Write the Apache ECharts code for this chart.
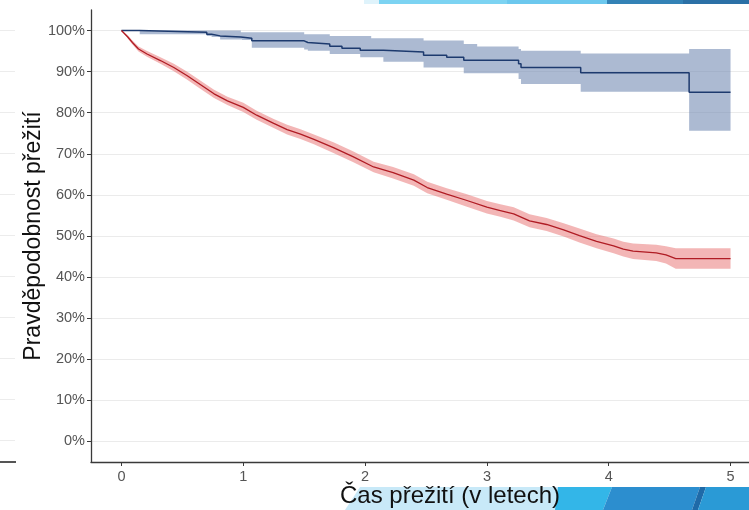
<!DOCTYPE html>
<html>
<head>
<meta charset="utf-8">
<script src="https://cdn.jsdelivr.net/npm/echarts@6/dist/echarts.min.js"></script>
<style>
    html, body {margin: 0; padding: 0; background: #fff;}
    #chart {width: 749px; height: 510px;}
</style>
</head>
<body>
<div id="chart"></div>
<script>
// osy
var xTicks = [0, 1, 2, 3, 4, 5];
var yTicks = [0, 10, 20, 30, 40, 50, 60, 70, 80, 90, 100];

// skupina 1 (modrá) - Kaplan-Meier, schodovitě
var blueTime  = [0, 0.15, 0.70, 0.74, 0.81, 0.98, 0.99, 1.07, 1.50, 1.53, 1.71, 1.81, 1.96, 2.05, 2.15, 2.48, 2.67, 2.81, 2.92, 3.26, 3.28, 3.77, 4.66, 5.0];
var blueSurv  = [100, 99.6, 99.1, 98.7, 98.4, 98.4, 98.1, 97.5, 97.1, 96.7, 96.2, 95.7, 95.2, 95.2, 94.8, 94.0, 93.5, 92.8, 92.8, 91.9, 91.0, 89.7, 85.0, 85.0];
var blueUpper = [100, 100, 100, 100, 100, 99.6, 99.6, 99.6, 99.1, 99.1, 98.7, 98.7, 98.7, 98.1, 98.1, 97.6, 97.6, 96.7, 96.1, 95.5, 95.1, 94.4, 95.5, 95.5];
var blueLower = [100, 99.1, 98.7, 98.4, 97.8, 97.8, 97.7, 95.8, 95.4, 95.1, 94.3, 94.3, 93.5, 93.5, 92.4, 91.0, 91.0, 89.6, 89.6, 88.2, 87.0, 85.1, 75.6, 75.6];

// skupina 2 (červená)
var redTime  = [0, 0.05, 0.09, 0.14, 0.21, 0.32, 0.43, 0.54, 0.65, 0.76, 0.87, 1.0, 1.11, 1.25, 1.36, 1.47, 1.58, 1.74, 1.90, 2.07, 2.23, 2.40, 2.51, 2.67, 2.83, 3.0, 3.11, 3.22, 3.35, 3.49, 3.63, 3.76, 3.90, 4.04, 4.12, 4.20, 4.39, 4.47, 4.55, 5.0];
var redSurv  = [100, 98.5, 97.1, 95.5, 94.3, 92.7, 91.0, 89.0, 86.8, 84.6, 82.9, 81.3, 79.4, 77.4, 75.9, 74.8, 73.5, 71.5, 69.3, 66.8, 65.4, 63.6, 61.8, 60.2, 58.7, 57.0, 56.2, 55.4, 53.7, 52.8, 51.5, 50.1, 48.7, 47.6, 46.8, 46.3, 45.9, 45.4, 44.5, 44.5];
var redLower = [100, 98.1, 96.6, 94.9, 93.6, 91.9, 90.1, 88.0, 85.8, 83.6, 81.9, 80.2, 78.3, 76.3, 74.7, 73.6, 72.3, 70.2, 68.0, 65.5, 64.0, 62.2, 60.4, 58.8, 57.2, 55.5, 54.7, 53.8, 52.1, 51.2, 49.9, 48.4, 47.0, 45.8, 45.0, 44.4, 43.9, 43.3, 42.0, 42.0];
var redUpper = [100, 98.9, 97.6, 96.1, 95.0, 93.5, 91.9, 90.0, 87.8, 85.6, 83.9, 82.4, 80.5, 78.5, 77.1, 76.0, 74.7, 72.8, 70.6, 68.1, 66.8, 65.0, 63.2, 61.6, 60.2, 58.5, 57.7, 57.0, 55.3, 54.4, 53.1, 51.8, 50.4, 49.4, 48.6, 48.2, 47.9, 47.5, 47.0, 47.0];

function pairs(t, v) {
    var out = [];
    for (var i = 0; i < t.length; i++) out.push([t[i], v[i]]);
    return out;
}

// pás intervalu spolehlivosti jako jeden polygon
function band(t, lo, hi, color, step) {
    return {
        type: 'custom',
        silent: true,
        z: 1,
        clip: true,
        data: [[t[0], hi[0]]],
        renderItem: function (params, api) {
            var top = [], bottom = [];
            for (var i = 0; i < t.length; i++) {
                top.push(api.coord([t[i], hi[i]]));
                bottom.push(api.coord([t[i], lo[i]]));
                if (step && i < t.length - 1) {
                    top.push(api.coord([t[i + 1], hi[i]]));
                    bottom.push(api.coord([t[i + 1], lo[i]]));
                }
            }
            return {
                type: 'polygon',
                shape: {points: top.concat(bottom.reverse())},
                style: {fill: color}
            };
        }
    };
}

var chart = echarts.init(document.getElementById('chart'));

var axisCol = '#3a3a3a';
var gridCol = '#ebebeb';
var font = 'Liberation Sans';

chart.setOption({
    animation: false,
    grid: {left: 91, right: -12, top: 10, bottom: 48, containLabel: false, outerBoundsMode: 'none'},
    xAxis: {
        type: 'value',
        min: -0.25,
        max: 5.25,
        name: 'Čas přežití (v letech)',
        nameLocation: 'middle',
        nameGap: 22,
        nameMoveOverlap: false,
        nameTextStyle: {fontSize: 24, color: '#111', fontFamily: font, padding: [0, 0, 0, 48]},
        axisLine: {onZero: false, lineStyle: {color: axisCol, width: 1.3}},
        axisTick: {length: 4, lineStyle: {color: axisCol}, customValues: xTicks},
        axisLabel: {customValues: xTicks, color: '#555', fontSize: 14.5, fontFamily: font, margin: 7},
        splitLine: {show: false}
    },
    yAxis: {
        type: 'value',
        min: -5,
        max: 105,
        name: 'Pravděpodobnost přežití',
        nameLocation: 'middle',
        nameGap: 46,
        nameMoveOverlap: false,
        nameTextStyle: {fontSize: 23, color: '#111', fontFamily: font},
        axisLine: {onZero: false, lineStyle: {color: axisCol, width: 1.3}},
        axisTick: {length: 4, lineStyle: {color: axisCol}, customValues: yTicks},
        axisLabel: {
            customValues: yTicks, color: '#555', fontSize: 14.5, fontFamily: font, margin: 6,
            formatter: function (v) { return v + '%'; }
        },
        splitLine: {show: true, lineStyle: {color: gridCol, width: 1.2}}
    },
    graphic: [
        // zbytky snímku prezentace
        {type: 'rect', shape: {x: 0, y: 30, width: 15, height: 1}, style: {fill: '#ececec'}},
        {type: 'rect', shape: {x: 0, y: 71, width: 15, height: 1}, style: {fill: '#ececec'}},
        {type: 'rect', shape: {x: 0, y: 112, width: 15, height: 1}, style: {fill: '#ececec'}},
        {type: 'rect', shape: {x: 0, y: 153, width: 15, height: 1}, style: {fill: '#ececec'}},
        {type: 'rect', shape: {x: 0, y: 194, width: 15, height: 1}, style: {fill: '#ececec'}},
        {type: 'rect', shape: {x: 0, y: 235, width: 15, height: 1}, style: {fill: '#ececec'}},
        {type: 'rect', shape: {x: 0, y: 276, width: 15, height: 1}, style: {fill: '#ececec'}},
        {type: 'rect', shape: {x: 0, y: 317, width: 15, height: 1}, style: {fill: '#ececec'}},
        {type: 'rect', shape: {x: 0, y: 358, width: 15, height: 1}, style: {fill: '#ececec'}},
        {type: 'rect', shape: {x: 0, y: 399, width: 15, height: 1}, style: {fill: '#ececec'}},
        {type: 'rect', shape: {x: 0, y: 440, width: 15, height: 1}, style: {fill: '#ececec'}},
        {type: 'rect', shape: {x: 0, y: 461, width: 16, height: 2}, style: {fill: '#555'}},
        {type: 'rect', shape: {x: 364, y: 0, width: 15, height: 4}, style: {fill: '#dff3fb'}},
        {type: 'rect', shape: {x: 379, y: 0, width: 128, height: 4}, style: {fill: '#7cd3f2'}},
        {type: 'rect', shape: {x: 507, y: 0, width: 100, height: 4}, style: {fill: '#6cc8ee'}},
        {type: 'rect', shape: {x: 607, y: 0, width: 76, height: 4}, style: {fill: '#3382b6'}},
        {type: 'rect', shape: {x: 683, y: 0, width: 66, height: 4}, style: {fill: '#2b70a6'}},
        {type: 'polygon', z: -1, shape: {points: [[345, 510], [360, 487], [560, 487], [560, 510]]}, style: {fill: '#c8e9f8'}},
        {type: 'polygon', z: -1, shape: {points: [[555, 510], [558, 487], [612, 487], [603, 510]]}, style: {fill: '#33b6e8'}},
        {type: 'polygon', z: -1, shape: {points: [[603, 510], [612, 487], [700, 487], [692, 510]]}, style: {fill: '#2c8ecf'}},
        {type: 'polygon', z: -1, shape: {points: [[692, 510], [700, 487], [706, 487], [698, 510]]}, style: {fill: '#1f6aa8'}},
        {type: 'polygon', z: -1, shape: {points: [[698, 510], [706, 487], [749, 487], [749, 510]]}, style: {fill: '#2a9ad6'}}
    ],
    series: [
        band(blueTime, blueLower, blueUpper, 'rgba(116,140,180,0.6)', true),
        band(redTime, redLower, redUpper, 'rgba(232,110,110,0.5)', false),
        {
            type: 'line',
            step: 'end',
            z: 3,
            showSymbol: false,
            data: pairs(blueTime, blueSurv),
            lineStyle: {color: '#1d3a6e', width: 1.5}
        },
        {
            type: 'line',
            z: 3,
            showSymbol: false,
            data: pairs(redTime, redSurv),
            lineStyle: {color: '#b01c24', width: 1.3}
        }
    ]
});
</script>
</body>
</html>
